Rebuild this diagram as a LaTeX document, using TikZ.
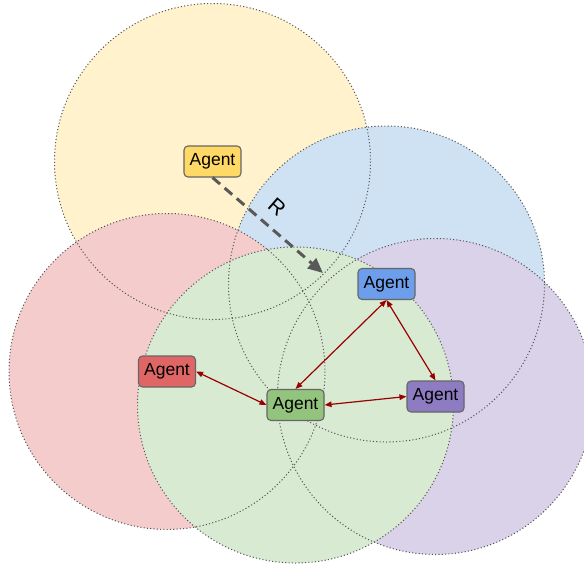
\documentclass[tikz,border=0pt]{standalone}
\usepackage{fontspec}
\setmainfont{Liberation Sans}
\usetikzlibrary{arrows.meta}

% range fills and agent colours
\definecolor{rgYellow}{HTML}{FFF2CC}
\definecolor{rgBlue}{HTML}{CFE2F3}
\definecolor{rgRed}{HTML}{F4CCCC}
\definecolor{rgGreen}{HTML}{D9EAD3}
\definecolor{rgPurple}{HTML}{D9D2E9}
\definecolor{agYellow}{HTML}{FFD966}
\definecolor{agBlue}{HTML}{6D9EEB}
\definecolor{agRed}{HTML}{E06666}
\definecolor{agGreen}{HTML}{93C47D}
\definecolor{agPurple}{HTML}{8E7CC3}
\definecolor{edgeGray}{HTML}{666666}
\definecolor{dotGray}{HTML}{555555}
\definecolor{rangeGray}{HTML}{595959}
\definecolor{linkRed}{HTML}{990000}

\tikzset{
  agent/.style={draw=edgeGray, line width=1.1pt, rounded corners=4pt,
    minimum width=57pt, minimum height=31pt, inner sep=0pt,
    font=\fontsize{17.5pt}{19pt}\selectfont},
  rangeline/.style={draw=dotGray, line width=1pt, dash pattern=on 1.1pt off 2.2pt},
  link/.style={draw=linkRed, line width=1.2pt,
    {Triangle[length=7pt,width=5.5pt]}-{Triangle[length=7pt,width=5.5pt]}},
  radius arrow/.style={draw=rangeGray, line width=3pt, dash pattern=on 10pt off 6pt,
    -{Triangle[length=15pt,width=13pt]}}
}

\begin{document}
\begin{tikzpicture}[x=1pt,y=-1pt]
\useasboundingbox (0,0) rectangle (584,565);

% communication ranges (fills first, outlines on top)
\fill[rgYellow] (212.5,161.5) circle (158);
\fill[rgBlue]   (386.5,284) circle (158);
\fill[rgPurple] (435.5,396.5) circle (158);
\fill[rgRed]    (167,371.5) circle (158);
\fill[rgGreen]  (295.5,405) circle (158);

\path[rangeline] (212.5,161.5) circle (158);
\path[rangeline] (386.5,284) circle (158);
\path[rangeline] (435.5,396.5) circle (158);
\path[rangeline] (167,371.5) circle (158);
\path[rangeline] (295.5,405) circle (158);

% agents
\node[agent, fill=agYellow] (ya) at (212.5,161.5) {Agent};
\node[agent, fill=agBlue]   (ba) at (386.5,284) {Agent};
\node[agent, fill=agRed]    (ra) at (167,371.5) {Agent};
\node[agent, fill=agGreen]  (ga) at (295.5,405) {Agent};
\node[agent, fill=agPurple] (pa) at (435.5,396.5) {Agent};

% range radius
\coordinate (rtip) at (323,273);
\draw[radius arrow] (ya.south) -- (rtip);
\node[rotate=-41, font=\fontsize{21pt}{23pt}\selectfont] (rlabel) at (277,207) {R};

% links between agents in range
\draw[link] (ra.east) -- (ga.west);
\draw[link] (ba.south) -- (ga.north);
\draw[link] (ba.south) -- (pa.north);
\draw[link] (ga.east) -- (pa.west);
\end{tikzpicture}
\end{document}
